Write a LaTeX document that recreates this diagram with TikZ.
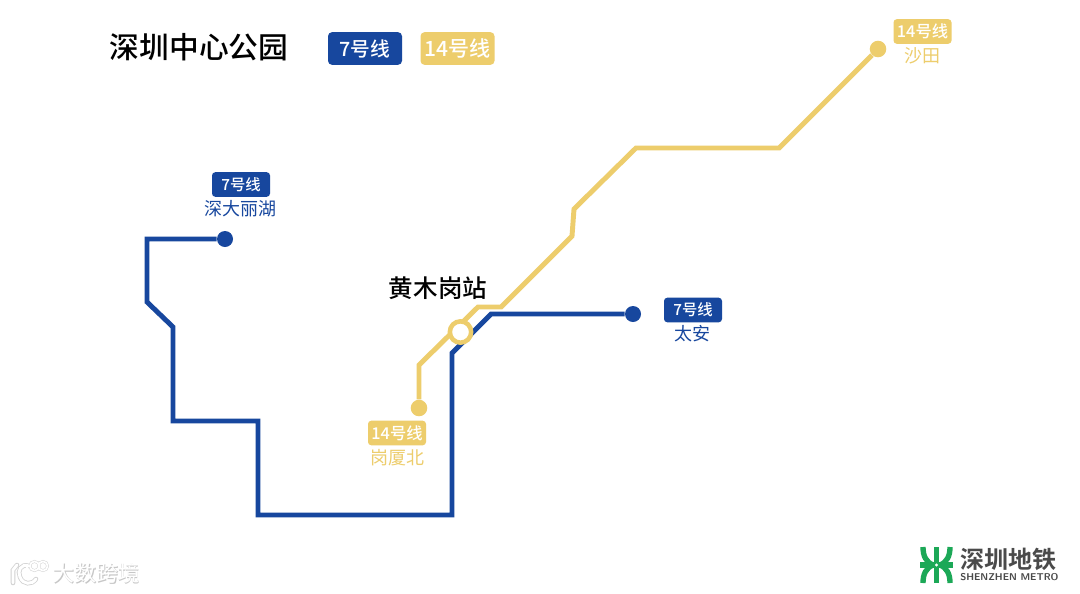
\documentclass[tikz,border=0pt]{standalone}
\usepackage{fontspec}
\setmainfont{Noto Sans CJK SC}
\newfontfamily\cjkmed{Noto Sans CJK SC Medium}
\newfontfamily\cjkbold{Noto Sans CJK SC Bold}
\definecolor{lineblue}{HTML}{17479E}
\definecolor{lineyellow}{HTML}{EDCD6C}
\definecolor{logogreen}{HTML}{1CA857}
\definecolor{logogray}{HTML}{4A4A4A}
\tikzset{
  px/.style={x=0.75pt,y=-0.75pt},
  metro/.style={line width=3.7pt,line join=miter},
  terminus/.style={circle,inner sep=0pt,minimum size=12.4pt},
  bigbadge/.style={rounded corners=3pt,minimum width=55.5pt,minimum height=24.5pt,inner sep=0pt,text=white},
  smallbadge/.style={rounded corners=2.5pt,minimum width=43.5pt,minimum height=18.5pt,inner sep=0pt,text=white},
  stationname/.style={inner sep=0pt,font=\fontsize{13.5}{15}\selectfont},
  heading/.style={inner sep=0pt,text=black},
  logostroke/.style={draw=logogreen,line width=4pt,line cap=butt},
}
\newcommand{\bigseven}{\cjkmed\fontsize{14.8}{16}\selectfont}
\newcommand{\bigfourteen}{\cjkmed\fontsize{15.8}{17}\selectfont}
\newcommand{\smallseven}{\cjkmed\fontsize{11.5}{13}\selectfont}
\newcommand{\smallfourteen}{\cjkmed\fontsize{12.2}{14}\selectfont}
\begin{document}
\begin{tikzpicture}[px]
\useasboundingbox (0,0) rectangle (1080,593);
\fill[white] (0,0) rectangle (1080,593);
% Lines
\node[terminus,fill=lineyellow] (yend) at (419,408) {};
\node[terminus,fill=lineyellow] (yterm) at (878,49) {};
\node[terminus,fill=lineblue,minimum size=12pt] (bend) at (633,314) {};
\node[terminus,fill=lineblue,minimum size=12pt] (bterm) at (225,239) {};
\draw[metro,draw=lineblue] (bend) -- (491,314) -- (452,353) -- (452,515) -- (258,515) -- (258,421) -- (173,421) -- (173,327) -- (147,302) -- (147,239) -- (bterm);
\draw[metro,draw=lineyellow] (yend) -- (419,365) -- (478,307) -- (501,307) -- (572,236) -- (574,209) -- (636,148) -- (779,148) -- (yterm);
\node[circle,draw=lineyellow,fill=white,line width=3.4pt,minimum size=16pt,inner sep=0pt] (hub) at (460.5,332) {};
% Title and legend
\node[heading,font=\cjkmed\fontsize{22.3}{24}\selectfont] (title) at (199,47) {深圳中心公园};
\node[bigbadge,fill=lineblue,font=\bigseven] (leg7) at (365,48.5) {7号线};
\node[bigbadge,fill=lineyellow,font=\bigfourteen] (leg14) at (457.5,48.5) {14号线};
\node[heading,font=\cjkmed\fontsize{18.4}{20}\selectfont] (hubname) at (438,288) {黄木岗站};
% Termini labels
\node[smallbadge,fill=lineyellow,font=\smallfourteen] (b1) at (922.5,31.5) {14号线};
\node[stationname,text=lineyellow] (s1) at (922.5,56) {沙田};
\node[smallbadge,fill=lineblue,font=\smallseven] (b2) at (241,184.5) {7号线};
\node[stationname,text=lineblue] (s2) at (240,209) {深大丽湖};
\node[smallbadge,fill=lineblue,font=\smallseven] (b3) at (693,310) {7号线};
\node[stationname,text=lineblue] (s3) at (692,334) {太安};
\node[smallbadge,fill=lineyellow,font=\smallfourteen] (b4) at (397,433) {14号线};
\node[stationname,text=lineyellow] (s4) at (397,458) {岗厦北};
% Metro logo
\draw[logostroke] (936.5,547) -- (936.5,583);
\draw[logostroke] (920,565) -- (953,565);
\draw[logostroke] (923,547) .. controls (923,556) and (926,562) .. (933,565);
\draw[logostroke] (950,547) .. controls (950,556) and (947,562) .. (940,565);
\draw[logostroke] (923,583) .. controls (923,574) and (926,568) .. (933,565);
\draw[logostroke] (950,583) .. controls (950,574) and (947,568) .. (940,565);
\fill[white] (936.5,565) circle (1.7);
\node[inner sep=0pt,text=logogray,font=\cjkbold\fontsize{18}{19}\selectfont,anchor=west] (mname) at (960,559) {深圳地铁};
\node[inner sep=0pt,text=logogray,font=\sffamily\bfseries\fontsize{7.4}{8}\selectfont,anchor=west] (mename) at (960,577) {SHENZHEN METRO};
% Watermark
\node[inner sep=0pt,text=black!22,font=\cjkmed\fontsize{16.4}{17}\selectfont] (wmshadow) at (97,574) {大数跨境};
\node[inner sep=0pt,text=white,font=\fontsize{16.4}{17}\selectfont] (wm) at (96.5,573.5) {大数跨境};
\foreach \c/\w in {black!18/3.4,white/2.2}{
  \draw[draw=\c,line width=\w pt,line cap=round] (17,565) -- (13,570) -- (13,583);
  \draw[draw=\c,line width=\w pt,line cap=round] (29,566) .. controls (21,563) and (17,571) .. (20,577) .. controls (23,585) and (32,585) .. (36,579);
  \draw[draw=\c,line width=0.6*\w pt] (27,564) -- (27,571);
  \draw[draw=\c,line width=0.6*\w pt] (34.5,566) circle (4.6);
  \draw[draw=\c,line width=0.6*\w pt] (43,566) circle (4.6);
}
\end{tikzpicture}
\end{document}
